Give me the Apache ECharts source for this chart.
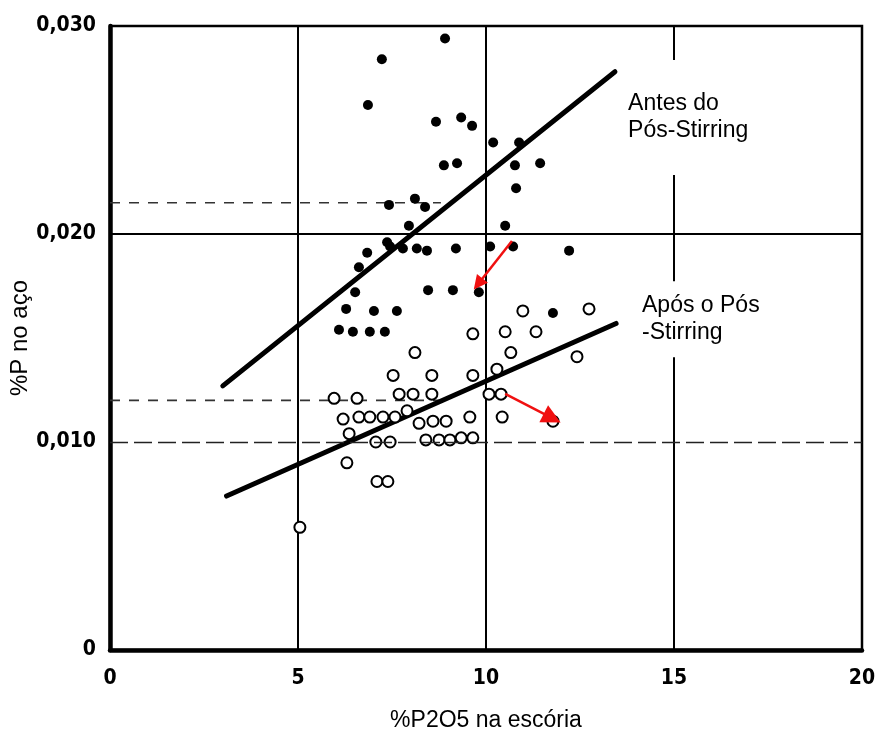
<!DOCTYPE html>
<html>
<head>
<meta charset="utf-8">
<script src="https://cdn.jsdelivr.net/npm/echarts@6/dist/echarts.min.js"></script>
<style>
  html, body { margin: 0; padding: 0; background: #fff; }
  #chart { width: 875px; height: 731px; }
</style>
</head>
<body>
<div id="chart"></div>
<script>
// Axis tick labels
const xTickLabels = ['0', '5', '10', '15', '20'];
const yTickLabels = ['0', '0,010', '0,020', '0,030'];

// Heats before post-stirring: [%P2O5 in slag, %P in steel]
const antesPoints = [
  [8.91, 0.0294], [7.23, 0.0284], [6.86, 0.0262], [8.67, 0.0254], [9.34, 0.0256],
  [9.63, 0.0252], [10.19, 0.0244], [10.88, 0.0244], [8.88, 0.0233], [9.23, 0.0234],
  [10.77, 0.0233], [11.44, 0.0234], [10.80, 0.0222], [7.42, 0.0214], [8.11, 0.0217],
  [8.38, 0.0213], [7.95, 0.0204], [10.51, 0.0204], [7.37, 0.0196], [6.84, 0.0191],
  [7.45, 0.0194], [7.79, 0.0193], [8.16, 0.0193], [8.43, 0.0192], [9.20, 0.0193],
  [10.11, 0.0194], [10.72, 0.0194], [12.21, 0.0192], [6.62, 0.0184], [6.52, 0.0172],
  [8.46, 0.0173], [9.12, 0.0173], [9.81, 0.0172], [6.28, 0.0164], [7.02, 0.0163],
  [7.63, 0.0163], [11.78, 0.0162], [6.09, 0.0154], [6.46, 0.0153], [6.91, 0.0153],
  [7.31, 0.0153]
];

// Heats after post-stirring
const aposPoints = [
  [10.98, 0.0163], [12.74, 0.0164], [9.65, 0.0152], [10.51, 0.0153], [11.33, 0.0153],
  [8.11, 0.0143], [10.66, 0.0143], [12.42, 0.0141], [7.53, 0.0132], [8.56, 0.0132],
  [9.65, 0.0132], [10.29, 0.0135], [5.96, 0.0121], [6.57, 0.0121], [7.69, 0.0123],
  [8.06, 0.0123], [8.56, 0.0123], [10.08, 0.0123], [10.40, 0.0123], [6.20, 0.0111],
  [6.62, 0.0112], [6.91, 0.0112], [7.26, 0.0112], [7.58, 0.0112], [7.90, 0.0115],
  [8.22, 0.0109], [8.59, 0.0110], [8.94, 0.0110], [9.57, 0.0112], [10.43, 0.0112],
  [11.78, 0.0110], [6.36, 0.0104], [7.07, 0.0100], [7.45, 0.0100], [8.40, 0.0101],
  [8.75, 0.0101], [9.04, 0.0101], [9.34, 0.0102], [9.65, 0.0102], [6.30, 0.0090],
  [7.10, 0.0081], [7.39, 0.0081], [5.05, 0.0059]
];

// Trend lines
const antesFit = [[3.0, 0.0127], [13.43, 0.0278]];
const aposFit = [[3.1, 0.0074], [13.46, 0.0157]];

// Mean levels
const antesLevel = [[0, 0.0215], [8.8, 0.0215]];
const aposLevel = [[0, 0.0120], [8.9, 0.0120]];

// Shift arrows (from -> to)
const shiftArrows = [
  [[10.69, 0.01966], [9.79, 0.0176]],
  [[10.51, 0.01231], [11.76, 0.01115]]
];

const annotationTexts = ['Antes do\nPós-Stirring', 'Após o Pós\n-Stirring'];

const INK = '#000';
const tickFont = '"Liberation Sans Narrow", "DejaVu Sans Condensed", "Liberation Sans", Arial, sans-serif';
const textFont = '"Liberation Sans", Arial, Helvetica, sans-serif';

const chart = echarts.init(document.getElementById('chart'), null, { renderer: 'canvas' });

const arrowSizes = [14, 19];

const option = {
  backgroundColor: '#fff',
  animation: false,
  grid: {
    left: 110, right: 13, top: 26, bottom: 81,
    containLabel: false, outerBoundsMode: 'none',
    show: true, borderColor: INK, borderWidth: 2.5, backgroundColor: 'transparent'
  },
  xAxis: {
    type: 'value', min: 0, max: 20, interval: 5,
    axisLine: { show: true, onZero: false, lineStyle: { color: INK, width: 4.5 } },
    axisTick: { show: false },
    splitLine: { show: true, lineStyle: { color: INK, width: 2 } },
    axisLabel: {
      margin: 18, color: INK, fontFamily: tickFont, fontWeight: 'bold', fontSize: 21,
      formatter: (v) => xTickLabels[Math.round(v / 5)]
    },
    name: '%P2O5 na escória', nameLocation: 'middle', nameGap: 59, nameMoveOverlap: false,
    nameTextStyle: { color: INK, fontFamily: textFont, fontSize: 23 }
  },
  yAxis: {
    type: 'value', min: 0, max: 0.03, interval: 0.01,
    axisLine: { show: true, onZero: false, lineStyle: { color: INK, width: 4.5 } },
    axisTick: { show: false },
    splitLine: { show: false },
    axisLabel: {
      margin: 14, color: INK, fontFamily: tickFont, fontWeight: 'bold', fontSize: 21,
      formatter: (v) => yTickLabels[Math.round(v / 0.01)]
    },
    name: '%P no aço', nameLocation: 'middle', nameGap: 78, nameMoveOverlap: false,
    nameTextStyle: { color: INK, fontFamily: textFont, fontSize: 24 }
  },
  series: [
    {
      // horizontal grid lines
      type: 'line', data: [], silent: true, z: 1,
      markLine: {
        silent: true, symbol: 'none', label: { show: false },
        data: [
          { yAxis: 0.02, lineStyle: { color: INK, width: 2.2, type: 'solid' } },
          { yAxis: 0.01, lineStyle: { color: '#222', width: 1.3, type: [18, 6] } }
        ]
      }
    },
    {
      type: 'line', data: antesLevel, symbol: 'none', silent: true, z: 2,
      lineStyle: { color: '#333', width: 1.6, type: [10, 9] }
    },
    {
      type: 'line', data: aposLevel, symbol: 'none', silent: true, z: 2,
      lineStyle: { color: '#333', width: 1.6, type: [10, 9] }
    },
    {
      type: 'line', data: antesFit, symbol: 'none', silent: true, z: 3,
      lineStyle: { color: INK, width: 5, cap: 'round' }
    },
    {
      type: 'line', data: aposFit, symbol: 'none', silent: true, z: 3,
      lineStyle: { color: INK, width: 5, cap: 'round' }
    },
    {
      name: 'Antes do Pós-Stirring', type: 'scatter', data: antesPoints, z: 4,
      symbol: 'circle', symbolSize: 10,
      itemStyle: { color: INK, opacity: 1 }
    },
    {
      name: 'Após o Pós-Stirring', type: 'scatter', data: aposPoints, z: 4,
      symbol: 'circle', symbolSize: 11,
      itemStyle: { color: '#fff', borderColor: INK, borderWidth: 2, opacity: 1 }
    },
    ...shiftArrows.map((a, i) => ({
      type: 'lines', coordinateSystem: 'cartesian2d', z: 5, silent: true,
      symbol: ['none', 'triangle'], symbolSize: arrowSizes[i],
      lineStyle: { color: '#f01010', width: 2.5, opacity: 1, curveness: 0 },
      data: [{ coords: a }]
    })),
    {
      type: 'scatter', z: 6, silent: true, symbolSize: 0,
      data: [
        { value: [13.62, 0.0256], label: { padding: [35, 6, 26, 6] } },
        { value: [13.99, 0.0159], label: { padding: [6, 6, 16, 6] } }
      ],
      itemStyle: { opacity: 1 },
      label: {
        show: true, position: 'right', distance: 0, align: 'left',
        color: '#000', opacity: 1, fontFamily: textFont, fontSize: 23, lineHeight: 27,
        backgroundColor: '#fff',
        formatter: (p) => annotationTexts[p.dataIndex]
      }
    }
  ]
};

chart.setOption(option);
</script>
</body>
</html>
